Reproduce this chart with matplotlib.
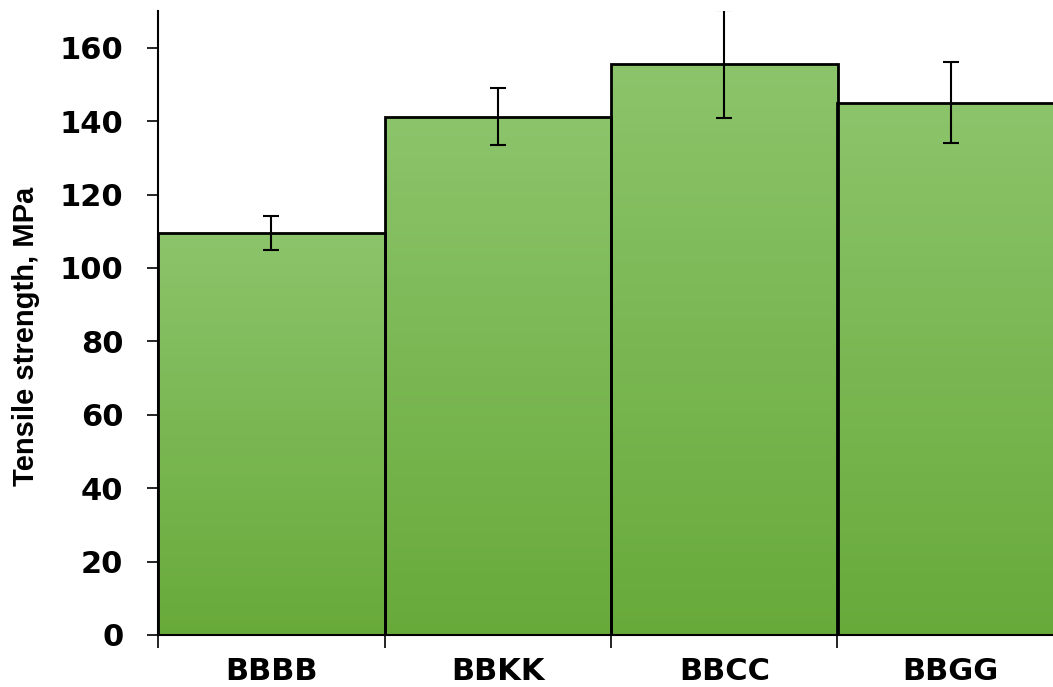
import matplotlib
matplotlib.use('Agg')
import matplotlib.pyplot as plt
import matplotlib.colors as mcolors
import numpy as np

# data
samples  = ['BBBB', 'BBKK', 'BBCC', 'BBGG']
strength = [109.6, 141.2, 155.6, 145.0]
errors   = [4.6, 7.7, 14.7, 11.0]

plt.rcParams['font.family'] = ['DejaVu Sans']

fig = plt.figure(figsize=(10.53, 6.87), dpi=100)
ax = fig.add_axes([158/1053, 1 - 635/687, 1 - 158/1053, (635 - 11)/687])

x = np.arange(len(samples))
bars = ax.bar(x, strength, width=1.0, color='none', edgecolor='black', linewidth=2, zorder=3)

# vertical green gradient inside each bar
cmap = mcolors.LinearSegmentedColormap.from_list('g', ['#68aa3a', '#8cc46b'])
grad = np.linspace(0, 1, 256).reshape(-1, 1)
for b in bars:
    im = ax.imshow(grad, cmap=cmap, origin='lower', aspect='auto',
                   extent=[b.get_x(), b.get_x() + b.get_width(), 0, b.get_height()], zorder=2)
    im.set_clip_path(b)

ax.errorbar(x, strength, yerr=errors, fmt='none', ecolor='black', elinewidth=1.5,
            capsize=5.5, capthick=1.5, zorder=4)

ax.set_xlim(-0.5, -0.5 + (1053 - 158) / 226.5)
ax.set_ylim(0, 170)
ax.set_yticks(range(0, 161, 20))
ax.set_xticks(x)
ax.set_xticklabels(samples, fontsize=22, fontweight='bold')
ax.set_xticks(np.arange(-0.5, 3.0, 1.0), minor=True)
ax.tick_params(axis='x', which='major', length=0, pad=16)
ax.tick_params(axis='x', which='minor', length=9, width=1.2, direction='out')
ax.tick_params(axis='y', length=8, width=1.2, pad=17, labelsize=22)
for lab in ax.get_yticklabels():
    lab.set_fontweight('bold')

ax.spines['top'].set_visible(False)
ax.spines['right'].set_visible(False)
ax.spines['left'].set_linewidth(1.5)
ax.spines['bottom'].set_linewidth(1.5)

ax.set_ylabel('Tensile strength, MPa', fontsize=21, fontweight='bold',
              family=['Liberation Sans', 'DejaVu Sans'])
ax.yaxis.set_label_coords(-(158 - 40) / 895, 0.479)

plt.savefig('out.png', dpi=100)
